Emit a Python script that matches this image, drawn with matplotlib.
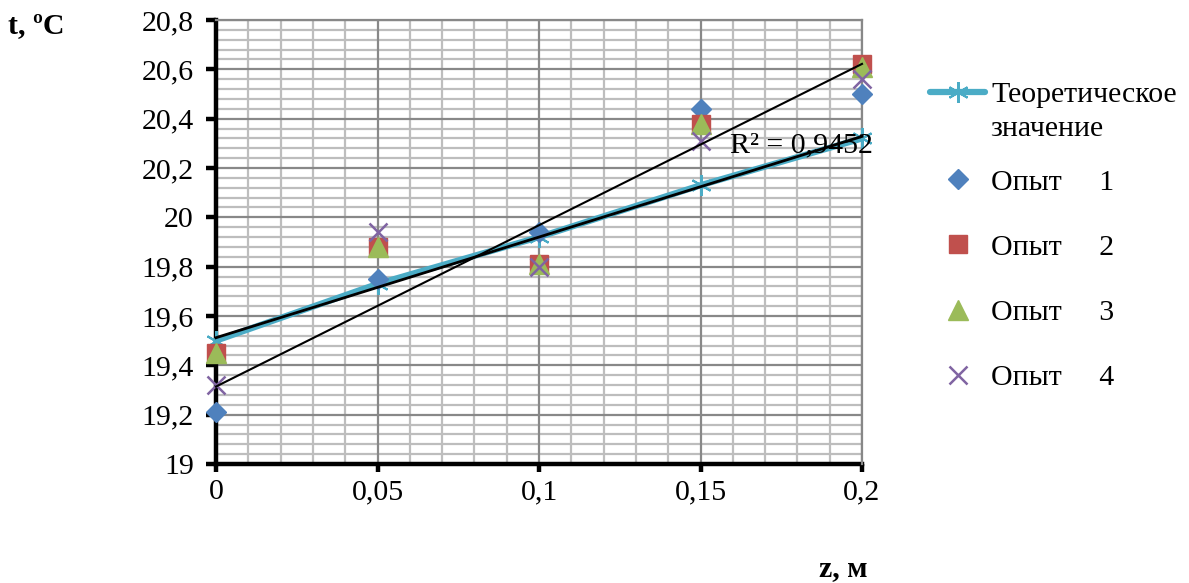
import numpy as np
import matplotlib
matplotlib.use("Agg")
import matplotlib.pyplot as plt
from matplotlib.ticker import MultipleLocator, FixedLocator, FixedFormatter

plt.rcParams['font.family'] = ['Liberation Serif', 'DejaVu Serif']

# ---- data ----
z = [0, 0.05, 0.1, 0.15, 0.2]
t_theory = [19.50, 19.73, 19.92, 20.13, 20.32]
t_exp1 = [19.21, 19.75, 19.94, 20.44, 20.50]
t_exp2 = [19.45, 19.88, 19.81, 20.38, 20.62]
t_exp3 = [19.45, 19.88, 19.81, 20.38, 20.61]
t_exp4 = [19.32, 19.94, 19.80, 20.31, 20.56]

label_theory_1 = "Теоретическое"
label_theory_2 = "значение"
exp_labels = ["Опыт     1", "Опыт     2", "Опыт     3", "Опыт     4"]
r2_label = "R² = 0,9452"
r2_pos = (0.159, 20.29)

x_ticks = [0, 0.05, 0.1, 0.15, 0.2]
x_tick_labels = ["0", "0,05", "0,1", "0,15", "0,2"]
y_ticks = [19.0, 19.2, 19.4, 19.6, 19.8, 20.0, 20.2, 20.4, 20.6, 20.8]
y_tick_labels = ["19", "19,2", "19,4", "19,6", "19,8", "20", "20,2", "20,4", "20,6", "20,8"]

W, H = 1189, 583
FS = 21.5

fig = plt.figure(figsize=(W / 100, H / 100), dpi=100)
ax = fig.add_axes([216 / W, 1 - 464 / H, (862 - 216) / W, (464 - 20) / H])

ax.set_xlim(0, 0.2)
ax.set_ylim(19, 20.8)

ax.xaxis.set_major_locator(FixedLocator(x_ticks))
ax.xaxis.set_major_formatter(FixedFormatter(x_tick_labels))
ax.yaxis.set_major_locator(FixedLocator(y_ticks))
ax.yaxis.set_major_formatter(FixedFormatter(y_tick_labels))
ax.xaxis.set_minor_locator(MultipleLocator(0.01))
ax.yaxis.set_minor_locator(MultipleLocator(0.04))

ax.set_axisbelow(True)
ax.grid(which='minor', color='#bdbdbd', lw=1.6)
for xv in x_ticks:
    ax.axvline(xv, color='#888888', lw=1.6, zorder=1)
for yv in y_ticks:
    ax.axhline(yv, color='#888888', lw=1.6, zorder=1)

for s in ['left', 'bottom']:
    ax.spines[s].set_color('black')
    ax.spines[s].set_linewidth(3.2)
    ax.spines[s].set_zorder(2)
for s in ['top', 'right']:
    ax.spines[s].set_color('#888888')
    ax.spines[s].set_linewidth(1.6)

ax.tick_params(axis='both', which='major', direction='out', length=7, width=3.2,
               labelsize=FS, colors='black')
ax.tick_params(axis='y', which='major', pad=9)
ax.tick_params(axis='x', which='major', pad=5, length=6)
ax.tick_params(axis='both', which='minor', length=0)

# ---- series ----
line_theory, = ax.plot(z, t_theory, color='#4BACC6', lw=4.5, marker=(6, 2, 0),
                       ms=15, mew=1.5, mec='#4BACC6', zorder=3, solid_capstyle='round',
                       clip_on=False)
p1, = ax.plot(z, t_exp1, ls='none', marker='D', color='#4F81BD', ms=10, zorder=4, clip_on=False)
p2, = ax.plot(z, t_exp2, ls='none', marker='s', color='#C0504D', ms=13.5, zorder=4, clip_on=False)
p3, = ax.plot(z, t_exp3, ls='none', marker='^', color='#9BBB59', ms=14, zorder=4, clip_on=False)
p4, = ax.plot(z, t_exp4, ls='none', marker='x', color='#8064A2', ms=13, mew=1.8, zorder=4, clip_on=False)

# linear trendlines
zz = np.array([min(z), max(z)])
k1, b1 = np.polyfit(z, t_exp1, 1)
kt, bt = np.polyfit(z, t_theory, 1)
ax.plot(zz, k1 * zz + b1, color='black', lw=1.5, zorder=5, clip_on=False)
ax.plot(zz, kt * zz + bt, color='black', lw=2, zorder=5, clip_on=False)

ax.text(r2_pos[0], r2_pos[1], r2_label, fontsize=FS, ha='left', va='center', zorder=6,
        family='Liberation Serif')

# ---- legend ----
leg1 = fig.legend(handles=[line_theory], labels=[label_theory_1], loc='center left',
                  bbox_to_anchor=(930 / W, 1 - 95 / H), frameon=False,
                  prop={'family': 'Liberation Serif', 'size': FS},
                  handlelength=1.85, handletextpad=0.2, borderpad=0, borderaxespad=0,
                  numpoints=1)
fig.text(990 / W, 1 - 129 / H, label_theory_2, fontsize=FS, ha='left', va='center',
         family='Liberation Serif')
leg2 = fig.legend(handles=[p1, p2, p3, p4], labels=exp_labels, loc='center left',
                  bbox_to_anchor=(930 / W, 1 - 280 / H), frameon=False,
                  prop={'family': 'Liberation Serif', 'size': FS},
                  handlelength=1.85, handletextpad=0.2, borderpad=0, borderaxespad=0,
                  labelspacing=1.28, numpoints=1)

# ---- axis titles ----
fig.text(8 / W, 1 - 26 / H, "t, ºC", fontsize=FS, fontweight='bold', ha='left', va='center')
fig.text(843 / W, 1 - 569 / H, "z, м", fontsize=FS, fontweight='bold', ha='center', va='center')

fig.savefig("out.png", dpi=100)
